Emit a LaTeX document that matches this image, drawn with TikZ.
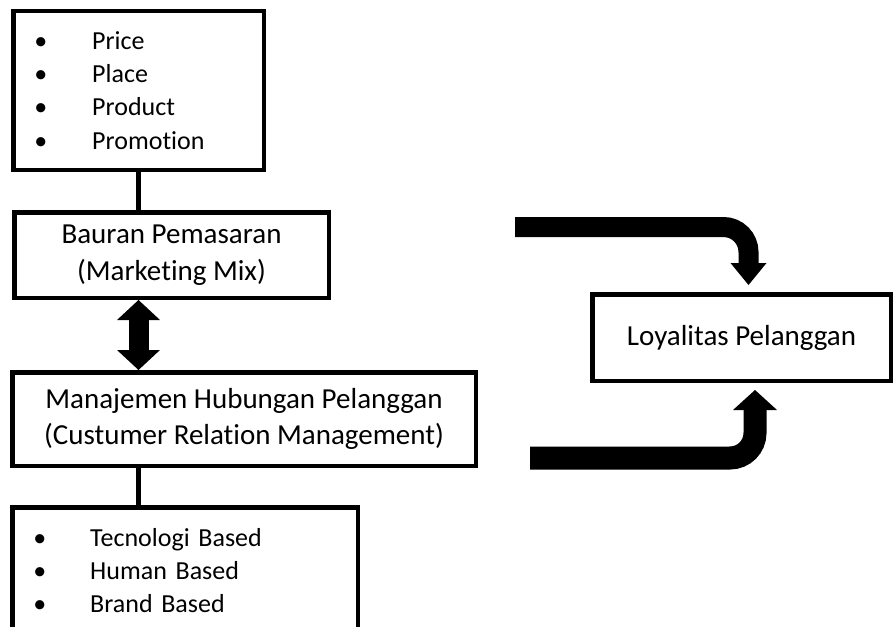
\documentclass[tikz,border=0pt]{standalone}
\usepackage{fontspec}
\setmainfont{Carlito}[Ligatures={NoCommon}]
\usetikzlibrary{arrows.meta,calc}

\begin{document}
\begin{tikzpicture}[x=1pt,y=-1pt,
    box/.style={draw,line width=4.5pt,inner sep=0pt,align=center,
      anchor=north west,font=\fontsize{29}{36.5}\selectfont},
    listbox/.style={box,align=left,inner xsep=21pt,
      font=\fontsize{26}{33.3}\selectfont},
    link/.style={line width=5.5pt},
    dblarrow/.style={line width=20pt,
      {Triangle[width=43pt,length=20pt,line width=0pt]}-{Triangle[width=43pt,length=20pt,line width=0pt]}},
    toparrow/.style={line width=20pt,rounded corners=25pt,
      -{Triangle[width=36pt,length=22pt,line width=0pt]}},
    botarrow/.style={line width=23pt,rounded corners=25pt,
      -{Triangle[width=44pt,length=20pt,line width=0pt]}}]
    \clip (0,0) rectangle (896,626);
    \def\bul#1#2{\makebox[#1][l]{\textbullet}#2}

    % Left column: marketing mix and CRM.
    \node[listbox,text width=208.5pt,minimum width=250.5pt,
        minimum height=158.5pt] (mix) at (11,9)
        {\bul{58pt}{Price}\\\bul{58pt}{Place}\\
         \bul{58pt}{Product}\\\bul{58pt}{Promotion}};
    \node[box,minimum width=314.5pt,minimum height=85.5pt] (bauran)
        at (12,210) {Bauran Pemasaran\\(Marketing Mix)};
    \node[box,minimum width=463.5pt,minimum height=93.5pt] (crm)
        at (10,370)
        {Manajemen Hubungan Pelanggan\\(Custumer Relation Management)};
    \node[listbox,text width=303.5pt,minimum width=345.5pt,
        minimum height=126.5pt] (tech) at (10,505)
        {\bul{57pt}{Tecnologi Based}\\\bul{57pt}{Human Based}\\
         \bul{57pt}{Brand Based}};

    \draw[link] (mix.south) -- (mix.south |- bauran.north);
    \draw[dblarrow] (bauran.south -| mix.south) -- (crm.north -| mix.south);
    \draw[link] (crm.south -| mix.south) -- (tech.north -| mix.south);

    % Right: loyalty with the two bent arrows.
    \node[box,minimum width=298.5pt,minimum height=86.5pt] (loyal)
        at (590,292) {Loyalitas Pelanggan};
    \coordinate (fromtop) at (515,227);
    \coordinate (frombot) at (530,458);
    \draw[toparrow] (fromtop) -- ($(loyal.north |- fromtop)+(7,0)$)
        -- ($(loyal.north)+(7,-7)$);
    \draw[botarrow] (frombot) -- ($(loyal.south |- frombot)+(13.5,0)$)
        -- ($(loyal.south)+(13.5,7)$);
\end{tikzpicture}
\end{document}
